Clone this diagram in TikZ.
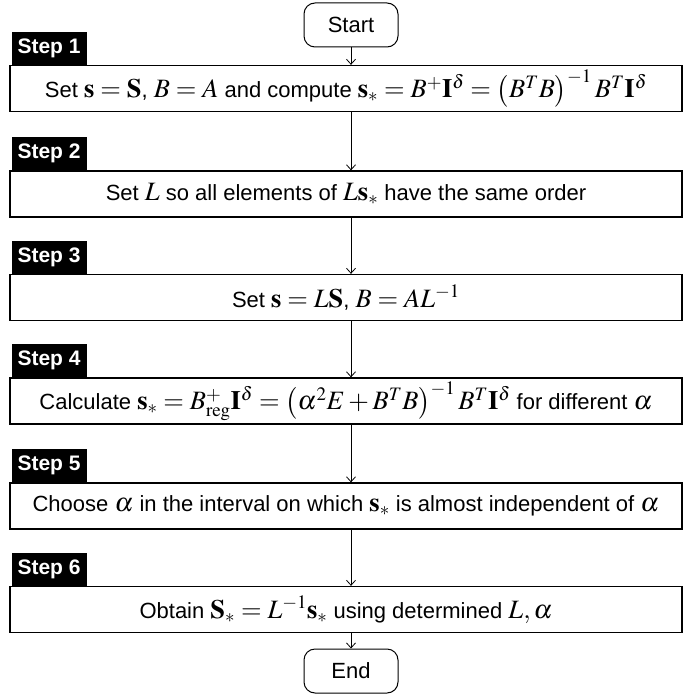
\documentclass[tikz,border=0pt]{standalone}
\usepackage{mathptmx}
\usepackage[no-math]{fontspec}
\setmainfont{Liberation Sans}
\usetikzlibrary{arrows.meta}
\DeclareMathSizes{22}{26.5}{19}{15}
\begin{document}
\begin{tikzpicture}[x=1pt,y=-1pt]
% Styles
\tikzstyle{cadre}=[draw,line width=1.3pt,minimum width=672pt,minimum height=46pt,inner sep=0pt,font=\fontsize{22}{26}\selectfont]
\tikzstyle{etape}=[fill=black,text=white,font=\bfseries\fontsize{21}{24}\selectfont,minimum width=75pt,minimum height=33pt,inner sep=0pt,anchor=south west]
\tikzstyle{terminal}=[draw,line width=1pt,rounded corners=11pt,minimum width=94pt,minimum height=44pt,inner sep=0pt,font=\fontsize{22}{26}\selectfont]
\tikzstyle{fleche}=[-{Straight Barb[length=5pt,width=9pt]},line width=0.8pt]
% Dimensions
\def\xb{346}
\def\xf{351}
\useasboundingbox (0,0) rectangle (683,695);
% Debut et fin
\node[terminal] (debut) at (\xf,25) {Start};
\node[terminal] (fin) at (\xf,671) {End};
% Etapes
\node[cadre] (e1) at (\xb,88.5) {Set $\mathbf{s}=\mathbf{S}$, $B=A$ and compute $\mathbf{s}_*=B^{+}\mathbf{I}^{\delta}=\bigl(B^TB\bigr)^{-1}\,B^T\mathbf{I}^{\delta}$};
\node[cadre] (e2) at (\xb,194) {Set $L$ so all elements of $L\mathbf{s}_*$ have the same order};
\node[cadre] (e3) at (\xb,297.5) {Set $\mathbf{s}=L\mathbf{S}$, $B=AL^{-1}$};
\node[cadre] (e4) at (\xb,401) {Calculate $\mathbf{s}_*=B^{+}_{\mathrm{reg}}\mathbf{I}^{\delta}=\bigl(\alpha^2E+B^TB\bigr)^{-1}\,B^T\mathbf{I}^{\delta}$ for different $\alpha$};
\node[cadre] (e5) at (\xb,506) {Choose $\alpha$ in the interval on which $\mathbf{s}_*$ is almost independent of $\alpha$};
\node[cadre] (e6) at (\xb,609.5) {Obtain $\mathbf{S}_*=L^{-1}\mathbf{s}_*$ using determined $L,\alpha$};
% Etiquettes
\foreach \i in {1,...,6}
  \node[etape] (t\i) at ([xshift=2pt]e\i.north west) {Step \i};
% Fleches
\draw[fleche] (debut.south) -- (debut.south |- e1.north);
\draw[fleche] (debut.south |- e1.south) -- (debut.south |- e2.north);
\draw[fleche] (debut.south |- e2.south) -- (debut.south |- e3.north);
\draw[fleche] (debut.south |- e3.south) -- (debut.south |- e4.north);
\draw[fleche] (debut.south |- e4.south) -- (debut.south |- e5.north);
\draw[fleche] (debut.south |- e5.south) -- (debut.south |- e6.north);
\draw[fleche] (debut.south |- e6.south) -- (fin.north);
\end{tikzpicture}
\end{document}
